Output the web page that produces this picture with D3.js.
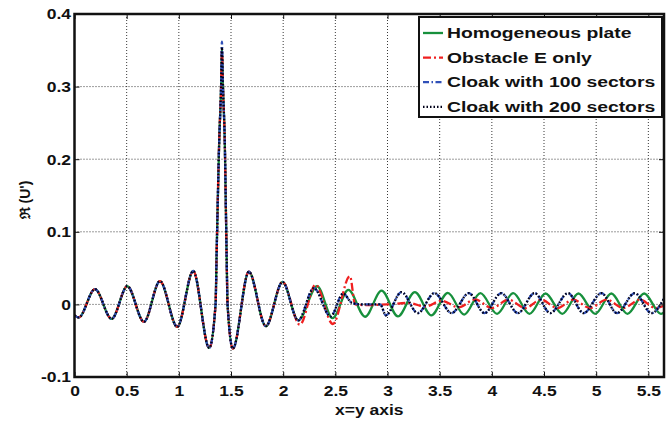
<!DOCTYPE html>
<html>
<head>
<meta charset="utf-8">
<script src="https://cdn.jsdelivr.net/npm/d3@7"></script>
<style>
  body { margin: 0; background: #fff; }
  text { font-family: "Liberation Sans", Arial, sans-serif; font-weight: bold; fill: #111; }
</style>
</head>
<body>
<div class="chart"></div>
<script>
// tick values and labels
var xTicks = [0, 0.5, 1, 1.5, 2, 2.5, 3, 3.5, 4, 4.5, 5, 5.5];
var xTickLabels = ["0", "0.5", "1", "1.5", "2", "2.5", "3", "3.5", "4", "4.5", "5", "5.5"];
var yTicks = [-0.1, 0, 0.1, 0.2, 0.3, 0.4];
var yTickLabels = ["-0.1", "0", "0.1", "0.2", "0.3", "0.4"];

var seriesNames = ["Homogeneous plate", "Obstacle E only", "Cloak with 100 sectors", "Cloak with 200 sectors"];

// part of the curve where all four runs lie on top of each other (peak height differs)
var sharedX = [0, 0.04, 0.196, 0.356, 0.506, 0.666, 0.819, 0.985, 1.138, 1.291, 1.352, 1.362, 1.387, 1.405,
               1.413, 1.423, 1.44, 1.458, 1.467, 1.518, 1.671, 1.834, 1.994];
var sharedY = [-0.015, -0.018, 0.021, -0.020, 0.025, -0.024, 0.032, -0.031, 0.046, -0.060, 0, 0.068, 0.226, 0.30,
               null, 0.30, 0.226, 0.068, 0, -0.061, 0.045, -0.030, 0.031];
var peakHeights = [0.352, 0.350, 0.362, 0.354];

// after x = 2 the runs split
var homogX = [2.144, 2.326, 2.473, 2.625, 2.785, 2.943, 3.10, 3.262, 3.42, 3.578, 3.735, 3.89, 4.05, 4.205,
              4.36, 4.515, 4.675, 4.83, 4.99, 5.145, 5.30, 5.46, 5.62, 5.65];
var homogY = [-0.022, 0.025, -0.019, 0.020, -0.017, 0.019, -0.0165, 0.017, -0.015, 0.016, -0.014, 0.0155, -0.013, 0.0155,
              -0.013, 0.015, -0.013, 0.015, -0.013, 0.015, -0.013, 0.015, -0.013, -0.011];

var obstacleX = [2.16, 2.31, 2.476, 2.64, 2.69, 2.8, 3.0, 3.2, 3.36, 3.52, 3.68, 3.84, 4.0, 4.16,
                 4.32, 4.47, 4.63, 4.78, 4.94, 5.10, 5.26, 5.42, 5.57, 5.65];
var obstacleY = [-0.028, 0.027, -0.027, 0.039, 0.0, -0.001, 0.0, 0.002, -0.003, 0.005, -0.004, 0.0068, -0.005, 0.0065,
                 -0.005, 0.0065, -0.005, 0.0065, -0.005, 0.0065, -0.005, 0.0065, -0.005, -0.002];

var cloak100X = [2.144, 2.294, 2.454, 2.575, 2.66, 2.75, 2.93, 2.984, 3.134, 3.29, 3.45, 3.615, 3.78, 3.93,
                 4.09, 4.25, 4.41, 4.56, 4.73, 4.88, 5.05, 5.2, 5.37, 5.53, 5.65];
var cloak100Y = [-0.022, 0.0225, -0.0166, 0.0150, 0.002, 0.0, 0.0, -0.015, 0.017, -0.012, 0.0155, -0.012, 0.0155, -0.012,
                 0.0155, -0.012, 0.0155, -0.012, 0.0155, -0.012, 0.0155, -0.012, 0.0155, -0.012, 0.008];

var cloak200X = [2.144, 2.294, 2.454, 2.575, 2.66, 2.75, 2.93, 2.984, 3.134, 3.29, 3.45, 3.615, 3.78, 3.93,
                 4.09, 4.25, 4.41, 4.56, 4.73, 4.88, 5.05, 5.2, 5.37, 5.53, 5.65];
var cloak200Y = [-0.022, 0.0225, -0.0166, 0.0148, 0.002, 0.0, 0.0, -0.015, 0.017, -0.012, 0.0155, -0.012, 0.0155, -0.012,
                 0.0155, -0.012, 0.0155, -0.012, 0.0155, -0.012, 0.0155, -0.012, 0.0155, -0.012, 0.008];

var margin = {top: 14, right: 7, bottom: 47, left: 74.5},
    width = 671 - margin.left - margin.right,
    height = 424 - margin.top - margin.bottom;

var x = d3.scaleLinear().domain([0, 5.65]).range([0, width]);
var y = d3.scaleLinear().domain([-0.1, 0.4]).range([height, 0]);

function buildSeries(i, tailX, tailY) {
  var pts = sharedX.map(function(v, k) {
    return {x: v, y: sharedY[k] === null ? peakHeights[i] : sharedY[k]};
  });
  tailX.forEach(function(v, k) { pts.push({x: v, y: tailY[k]}); });
  return pts;
}

var series = [
  {name: seriesNames[0], color: "#17903c", dash: null, width: 2.3, pts: buildSeries(0, homogX, homogY)},
  {name: seriesNames[1], color: "#f02020", dash: "8,3,2,3", width: 2.3, pts: buildSeries(1, obstacleX, obstacleY)},
  {name: seriesNames[2], color: "#3050b8", dash: "6,2.5,1.5,2.5", width: 2.3, pts: buildSeries(2, cloak100X, cloak100Y)},
  {name: seriesNames[3], color: "#000018", dash: "1.5,2", width: 2.3, pts: buildSeries(3, cloak200X, cloak200Y)}
];

var svg = d3.select(".chart").append("svg")
    .attr("width", 671)
    .attr("height", 424);

var graph = svg.append("g")
    .attr("transform", "translate(" + margin.left + "," + margin.top + ")");

// grid
graph.append("g").selectAll("line")
    .data(xTicks.slice(1))
  .enter().append("line")
    .attr("x1", function(d) { return x(d); })
    .attr("x2", function(d) { return x(d); })
    .attr("y1", 0).attr("y2", height)
    .attr("stroke", "#222").attr("stroke-width", 0.9)
    .attr("stroke-dasharray", "1,2");

graph.append("g").selectAll("line")
    .data(yTicks.slice(1, -1))
  .enter().append("line")
    .attr("x1", 0).attr("x2", width)
    .attr("y1", function(d) { return y(d); })
    .attr("y2", function(d) { return y(d); })
    .attr("stroke", "#222").attr("stroke-width", 0.9)
    .attr("stroke-dasharray", "1,2");

// curves
var line = d3.line()
    .x(function(d) { return x(d.x); })
    .y(function(d) { return y(d.y); })
    .curve(d3.curveMonotoneX);

svg.append("clipPath").attr("id", "plotclip")
  .append("rect").attr("width", width).attr("height", height);

series.forEach(function(s) {
  graph.append("path")
      .attr("clip-path", "url(#plotclip)")
      .attr("d", line(s.pts))
      .attr("fill", "none")
      .attr("stroke", s.color)
      .attr("stroke-width", s.width)
      .attr("stroke-dasharray", s.dash);
});

// axes, ticks pointing inwards
var fmtX = function(d, i) { return xTickLabels[i]; };
var fmtY = function(d, i) { return yTickLabels[i]; };

var xAxisG = graph.append("g")
    .attr("transform", "translate(0," + height + ")")
    .call(d3.axisBottom(x).tickValues(xTicks).tickFormat(fmtX).tickSizeInner(-5).tickSizeOuter(0).tickPadding(10));

var yAxisG = graph.append("g")
    .call(d3.axisLeft(y).tickValues(yTicks).tickFormat(fmtY).tickSizeInner(-5).tickSizeOuter(0).tickPadding(10));

graph.append("g")
    .call(d3.axisTop(x).tickValues(xTicks).tickFormat("").tickSizeInner(-5).tickSizeOuter(0));
graph.append("g")
    .attr("transform", "translate(" + width + ",0)")
    .call(d3.axisRight(y).tickValues(yTicks).tickFormat("").tickSizeInner(-5).tickSizeOuter(0));

svg.selectAll(".domain").remove();
svg.selectAll(".tick line").attr("stroke", "#111").attr("stroke-width", 1);

xAxisG.selectAll("text")
    .attr("y", 9)
    .attr("dy", "0.71em")
    .attr("transform", "scale(1.25,1)")
    .style("font-size", "14px");

yAxisG.selectAll("text")
    .attr("x", -3.5 / 1.25)
    .attr("dy", "0.35em")
    .attr("transform", "scale(1.25,1)")
    .style("font-size", "14px");

// frame
graph.append("rect")
    .attr("width", width)
    .attr("height", height)
    .attr("fill", "none")
    .attr("stroke", "#111")
    .attr("stroke-width", 2.5);

// axis titles
svg.append("text")
    .attr("transform", "translate(" + (margin.left + width / 2) + ",415) scale(1.25,1)")
    .attr("text-anchor", "middle")
    .style("font-size", "14px")
    .text("x=y axis");

svg.append("text")
    .attr("transform", "translate(30,200) rotate(-90)")
    .attr("text-anchor", "middle")
    .style("font-size", "14px")
    .text("\u211C (U')");

// legend
var legend = svg.append("g").attr("transform", "translate(419,17)");
legend.append("rect")
    .attr("width", 243)
    .attr("height", 100)
    .attr("fill", "#fff")
    .attr("stroke", "#111")
    .attr("stroke-width", 2);

series.forEach(function(s, i) {
  var cy = 16 + i * 24.6;
  legend.append("line")
      .attr("x1", 4).attr("x2", 24)
      .attr("y1", cy).attr("y2", cy)
      .attr("stroke", s.color)
      .attr("stroke-width", s.width)
      .attr("stroke-dasharray", s.dash);
  legend.append("text")
      .attr("transform", "translate(28," + (cy + 5) + ") scale(1.38,1)")
      .style("font-size", "14px")
      .text(s.name);
});
</script>
</body>
</html>
